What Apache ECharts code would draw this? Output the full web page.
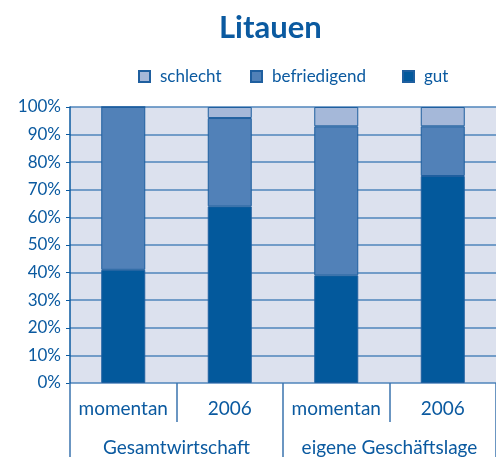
<!DOCTYPE html>
<html>
<head>
<meta charset="utf-8">
<script src="https://cdn.jsdelivr.net/npm/echarts@6/dist/echarts.min.js"></script>
<style>
  html, body { margin: 0; padding: 0; background: #fff; }
  #chart { width: 496px; height: 457px; }
</style>
</head>
<body>
<div id="chart"></div>
<script>
var categories = ['momentan', '2006', 'momentan', '2006']
var groups = ['Gesamtwirtschaft', 'eigene Geschäftslage']
var gut = [41, 64, 39, 75]
var befriedigend = [59, 32, 54, 18]
var schlecht = [0, 4, 7, 7]

var blue = '#0b5aa0'
var chart = echarts.init(document.getElementById('chart'))

function barSeries(name, data, color) {
  return {
    name: name,
    type: 'bar',
    stack: 'total',
    barWidth: 44,
    data: data,
    itemStyle: { color: color, borderColor: '#1f5f9f', borderWidth: 1 }
  }
}

// one legend per entry, the gaps in the original are uneven
function legendAt(name, left) {
  return {
    data: [name],
    left: left,
    top: 63,
    itemWidth: 11,
    itemHeight: 11,
    icon: 'rect',
    textStyle: { fontFamily: 'Lato', fontSize: 17, color: blue, padding: [0, 0, 0, 5] }
  }
}

chart.setOption({
  animation: false,
  title: {
    text: 'Litauen',
    left: 214,
    top: 7,
    textStyle: { fontFamily: 'Lato', fontSize: 31, fontWeight: 'bold', color: blue }
  },
  legend: [
    legendAt('schlecht', 133),
    legendAt('befriedigend', 245),
    legendAt('gut', 397)
  ],
  grid: {
    left: 70,
    top: 107,
    bottom: 73,
    width: 432,
    show: true,
    backgroundColor: '#dce1ee',
    borderWidth: 0
  },
  xAxis: [{
    type: 'category',
    data: categories,
    position: 'bottom',
    axisLine: { show: false },
    axisTick: { show: true, interval: 0, length: 39, lineStyle: { color: '#3b74ae', width: 1.5 } },
    axisLabel: { interval: 0, margin: 16, fontFamily: 'Lato', fontSize: 19, color: blue }
  }, {
    type: 'category',
    data: groups,
    position: 'bottom',
    axisLine: { show: false },
    axisTick: { show: true, interval: 0, length: 75, lineStyle: { color: '#3b74ae', width: 1.5 } },
    axisLabel: { interval: 0, margin: 55, fontFamily: 'Lato', fontSize: 19, color: blue }
  }],
  yAxis: {
    type: 'value',
    min: 0,
    max: 100,
    interval: 10,
    axisLine: { show: true, lineStyle: { color: blue, width: 1.5 } },
    axisTick: { show: true, length: 4, lineStyle: { color: blue } },
    axisLabel: { formatter: '{value}%', margin: 9, fontFamily: 'Lato', fontSize: 17, color: blue },
    splitLine: { lineStyle: { color: '#4f84bb', width: 1.5 } }
  },
  series: [
    barSeries('gut', gut, '#03599c'),
    barSeries('befriedigend', befriedigend, '#5181b8'),
    barSeries('schlecht', schlecht, '#a5b8d9')
  ]
})
</script>
</body>
</html>
